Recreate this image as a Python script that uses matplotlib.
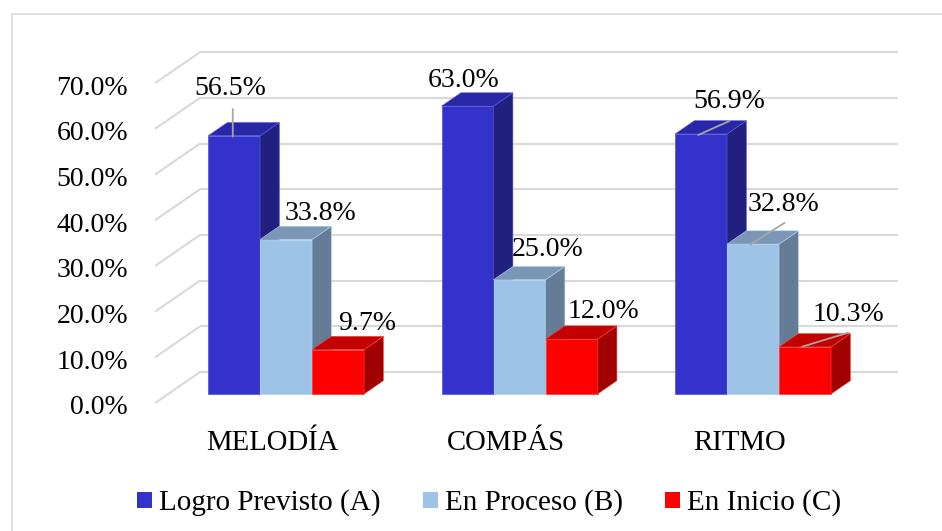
import matplotlib
matplotlib.use("Agg")
import matplotlib.pyplot as plt
from matplotlib.patches import Polygon, Rectangle, Patch
from matplotlib.transforms import offset_copy, ScaledTranslation

# ---------------- data ----------------
categories = ["MELODÍA", "COMPÁS", "RITMO"]
series_names = ["Logro Previsto (A)", "En Proceso (B)", "En Inicio (C)"]
logro_previsto = [56.5, 63.0, 56.9]
en_proceso = [33.8, 25.0, 32.8]
en_inicio = [9.7, 12.0, 10.3]
y_ticks = [0, 10, 20, 30, 40, 50, 60, 70]
y_tick_labels = ["0.0%", "10.0%", "20.0%", "30.0%", "40.0%", "50.0%", "60.0%", "70.0%"]

series_values = [logro_previsto, en_proceso, en_inicio]

# ---------------- styles ----------------
front_colors = ["#3333CC", "#9DC3E6", "#FF0000"]
top_colors = ["#2828A6", "#7B97B6", "#C20000"]
side_colors = ["#21207F", "#647C96", "#A00000"]
edge_colors = ["#5C5CE0", "#B8D4EE", "#FF4040"]
grid_color = "#D9D9D9"
leader_color = "#A6A6A6"
FONT = "Liberation Serif"

# label offsets in pixels (dx right, dy down) from front-top-centre of each bar
label_offsets = [
    [(-4, -47), (-3.5, -26), (28, -32)],
    [(34.5, -26.5), (28, -30), (30.6, -40)],
    [(29, -25.7), (32, -27.7), (43, -32)],
]
# leader lines: (series, category, start offset, end offset) in pixels
leaders = [
    (0, 0, (-1.3, 0.9), (-1.3, -26.8)),
    (0, 2, (-2.7, 1.0), (29, -13.3)),
    (1, 2, (-2.7, 0.3), (31.6, -21.3)),
    (2, 2, (-2.7, -0.3), (43.3, -14.3)),
]

W, H = 942, 531
fig = plt.figure(figsize=(W / 100, H / 100), dpi=100)
fig.patch.set_facecolor("white")

# pixel geometry of the front plane
px0, ppu = 273.0, 233.5      # x pixel of category 0, pixels per category
py0, ppp = 403.0, 4.57       # y pixel of 0%, pixels per percent
xlim = (-0.53, 2.69)
ylim = (-2.0, 78.0)
lp = px0 + ppu * xlim[0]
rp = px0 + ppu * xlim[1]
tp = py0 - ppp * ylim[1]
bp = py0 - ppp * ylim[0]
ax = fig.add_axes([lp / W, 1 - bp / H, (rp - lp) / W, (bp - tp) / H])
ax.set_xlim(xlim)
ax.set_ylim(ylim)
ax.patch.set_alpha(0)
for s in ax.spines.values():
    s.set_visible(False)

DX = 45.0 / ppu     # full depth, x units
DY = 31.0 / ppp     # full depth, y units
d0, th = 0.29, 0.43  # bar front depth and thickness (fraction of depth)
bw = 52.0 / ppu
wall_left = -0.505
wall_right_back = (898.0 - px0) / ppu

# walls / gridlines
for v in y_ticks:
    ax.plot([wall_left + DX, wall_right_back], [v + DY, v + DY],
            color=grid_color, lw=1.5, zorder=1, solid_capstyle="butt", clip_on=False)
    ax.plot([wall_left, wall_left + DX], [v, v + DY],
            color=grid_color, lw=1.5, zorder=1, solid_capstyle="butt", clip_on=False)

# bars
for i in range(len(categories)):
    for j, vals in enumerate(series_values):
        v = vals[i]
        xl = i - 1.5 * bw + j * bw + d0 * DX
        yb = d0 * DY
        z = 3 + j
        ax.bar(xl, v, width=bw, bottom=yb, align="edge", color=front_colors[j],
               edgecolor=edge_colors[j], linewidth=0.6, zorder=z)
        tdx, tdy = th * DX, th * DY
        side = Polygon([(xl + bw, yb), (xl + bw, yb + v), (xl + bw + tdx, yb + v + tdy),
                        (xl + bw + tdx, yb + tdy)], closed=True,
                       facecolor=side_colors[j], edgecolor=edge_colors[j], lw=0.4, zorder=z)
        top = Polygon([(xl, yb + v), (xl + bw, yb + v), (xl + bw + tdx, yb + v + tdy),
                       (xl + tdx, yb + v + tdy)], closed=True,
                      facecolor=top_colors[j], edgecolor=edge_colors[j], lw=0.4, zorder=z)
        ax.add_patch(side)
        ax.add_patch(top)


def anchor(j, i):
    xl = i - 1.5 * bw + j * bw + d0 * DX
    return xl + bw / 2, series_values[j][i] + d0 * DY


# data labels
for j in range(3):
    for i in range(3):
        ax_, ay_ = anchor(j, i)
        dx, dy = label_offsets[j][i]
        tr = offset_copy(ax.transData, fig=fig, x=dx, y=-dy, units="dots")
        ax.text(ax_, ay_, f"{series_values[j][i]:.1f}%", transform=tr, ha="center",
                va="center", fontsize=20, family=FONT, color="black", zorder=10)

# leader lines
for j, i, (sx, sy), (ex, ey) in leaders:
    ax_, ay_ = anchor(j, i)
    ax.annotate("", xy=(ax_, ay_),
                xycoords=offset_copy(ax.transData, fig=fig, x=sx, y=-sy, units="dots"),
                xytext=(ax_, ay_),
                textcoords=offset_copy(ax.transData, fig=fig, x=ex, y=-ey, units="dots"),
                arrowprops=dict(arrowstyle="-", color=leader_color, lw=1.3,
                                shrinkA=0, shrinkB=0), zorder=9)

# y tick labels
ax.set_yticks(y_ticks)
ax.set_yticklabels(y_tick_labels, fontsize=20, family=FONT, color="black")
ax.tick_params(axis="y", length=0, pad=15.3)
for lab in ax.get_yticklabels():
    lab.set_transform(lab.get_transform() + ScaledTranslation(0, -2 / 100, fig.dpi_scale_trans))

# category labels
ax.set_xticks([])
for i, c in enumerate(categories):
    tr = offset_copy(ax.transData, fig=fig, x=-0.5, y=-39.5, units="dots")
    ax.text(i, 0, c, transform=tr, ha="center", va="center", fontsize=20.7,
            family=FONT, color="black")

# legend
handles = [Patch(facecolor=front_colors[k], edgecolor="none") for k in range(3)]
fig.legend(handles, series_names, loc="center", bbox_to_anchor=(489 / W, 1 - 503 / H),
           ncol=3, frameon=False, prop={"family": FONT, "size": 21},
           handlelength=0.52, handleheight=0.45, handletextpad=0.23,
           columnspacing=1.45, borderpad=0)

# chart-area border
fig.add_artist(Rectangle((12 / W, -0.2), 1.5, 1.2 - 14 / H, transform=fig.transFigure,
                         fill=False, edgecolor="#D9D9D9", lw=1.2))

fig.savefig("out.png", dpi=100)
